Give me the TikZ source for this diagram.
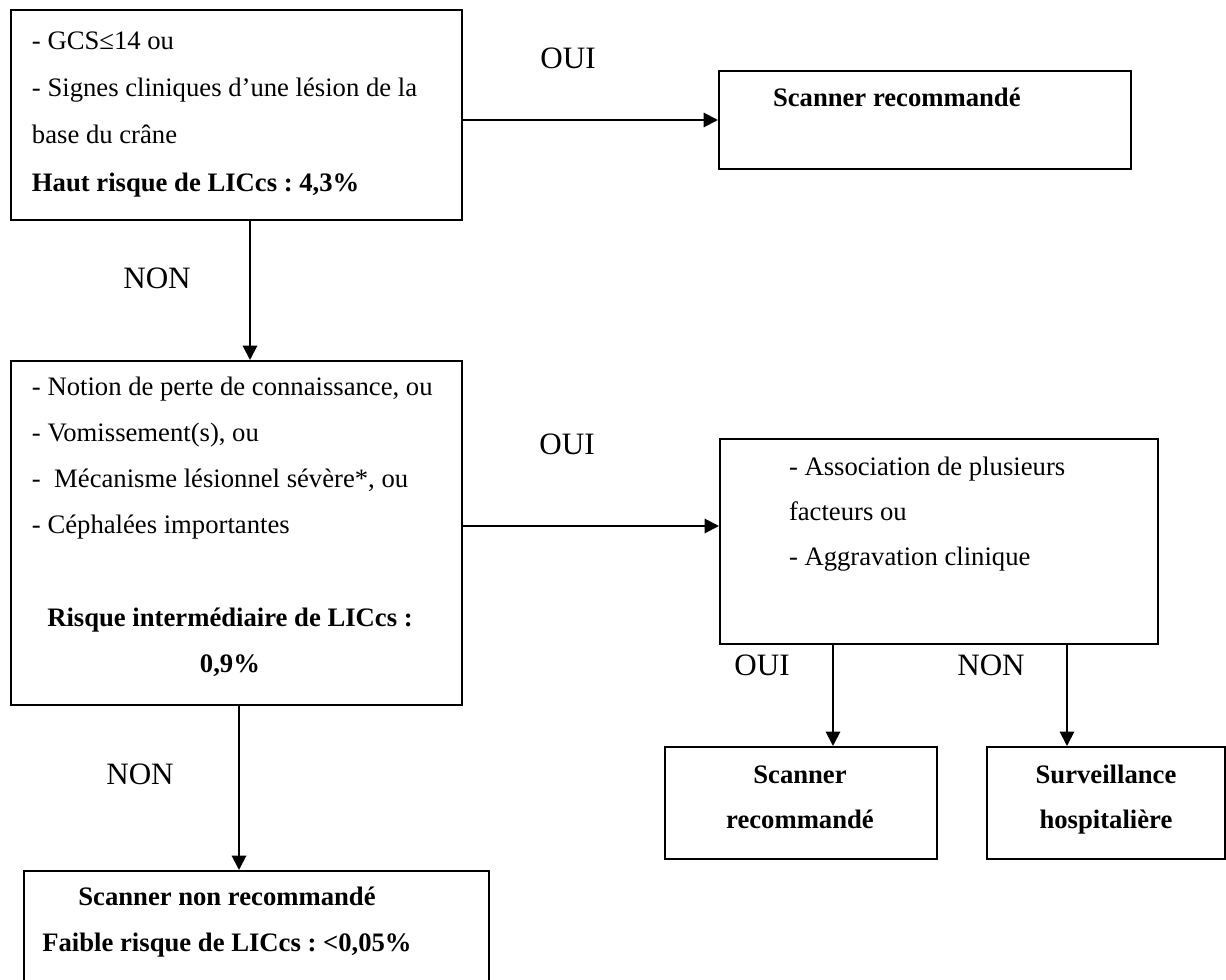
\documentclass[tikz,border=0pt]{standalone}
\usepackage{fontspec}
\setmainfont{Liberation Serif}
\usepackage{tikz}
\usetikzlibrary{arrows.meta}
\newdimen\pxu
\pxu=0.45pt
\frenchspacing

\begin{document}
\begin{tikzpicture}[x=0.45pt, y=-0.45pt, line width=0.9pt,
    >={Triangle[length=6.5pt,width=6.5pt]},
    box/.style={draw, anchor=north west, inner sep=0pt},
    txt/.style={font=\fontsize{12}{20.7}\selectfont, align=left, inner sep=0pt, anchor=base west},
    ctxt/.style={txt, align=center, anchor=base},
    ans/.style={font=\fontsize{14}{16}\selectfont, inner sep=0pt, anchor=base}]
        \clip (0,0) rectangle (1226,980);
        \node[box, minimum width=451\pxu, minimum height=210\pxu] (b1) at (10,9) {};
        \node[box, minimum width=412\pxu, minimum height=98\pxu] (r1) at (718,70) {};
        \node[box, minimum width=451\pxu, minimum height=344\pxu] (b2) at (10,360) {};
        \node[box, minimum width=438\pxu, minimum height=205\pxu] (b3) at (719,438) {};
        \node[box, minimum width=272\pxu, minimum height=112\pxu] (b4) at (664,746) {};
        \node[box, minimum width=238\pxu, minimum height=112\pxu] (b5) at (986,746) {};
        \node[box, minimum width=465\pxu, minimum height=150\pxu] (b6) at (23,870) {};

        \node[txt, font=\fontsize{12}{21.2}\selectfont] (t1) at (31,191) {- GCS≤14 ou\\- Signes cliniques d’une lésion de la\\base du crâne\\\textbf{Haut risque de LICcs : 4,3\%}};
        \node[txt] (tr1) at (772,106) {\textbf{Scanner recommandé}};
        \node[txt] (t2) at (31,533) {- Notion de perte de connaissance, ou\\- Vomissement(s), ou\\-\ \ Mécanisme lésionnel sévère*, ou\\- Céphalées importantes};
        \node[ctxt] (tr2) at (230,672) {\textbf{Risque intermédiaire de LICcs :}\\\textbf{0,9\%}};
        \node[txt, font=\fontsize{12}{20.25}\selectfont] (t3) at (788,565) {- Association de plusieurs\\facteurs ou\\- Aggravation clinique};
        \node[ctxt, font=\fontsize{12}{20.25}\selectfont] (t4) at (800,828) {\textbf{Scanner}\\\textbf{recommandé}};
        \node[ctxt, font=\fontsize{12}{20.25}\selectfont] (t5) at (1106,828) {\textbf{Surveillance}\\\textbf{hospitalière}};
        \node[ctxt] (t6) at (227,951) {\textbf{Scanner non recommandé}\\\textbf{Faible risque de LICcs : <0,05\%}};

        \node[ans] (oui1) at (568,68) {OUI};
        \node[ans] (non1) at (157,288) {NON};
        \node[ans] (oui2) at (567,454) {OUI};
        \node[ans] (oui3) at (762,675) {OUI};
        \node[ans] (non2) at (991,675) {NON};
        \node[ans] (non3) at (140,784) {NON};

        \draw[->] (r1.west -| b1.east) -- (r1.west);
        \draw[->] ([xshift=13.5\pxu]b1.south) -- ([xshift=13.5\pxu]b1.south |- b2.north);
        \draw[->] ([yshift=7\pxu]b2.east) -- ([yshift=7\pxu]b2.east -| b3.west);
        \draw[->] ([xshift=32\pxu]b4.north |- b3.south) -- ([xshift=32\pxu]b4.north);
        \draw[->] ([xshift=-39\pxu]b5.north |- b3.south) -- ([xshift=-39\pxu]b5.north);
        \draw[->] ([xshift=2.5\pxu]b2.south) -- ([xshift=2.5\pxu]b2.south |- b6.north);
\end{tikzpicture}
\end{document}
